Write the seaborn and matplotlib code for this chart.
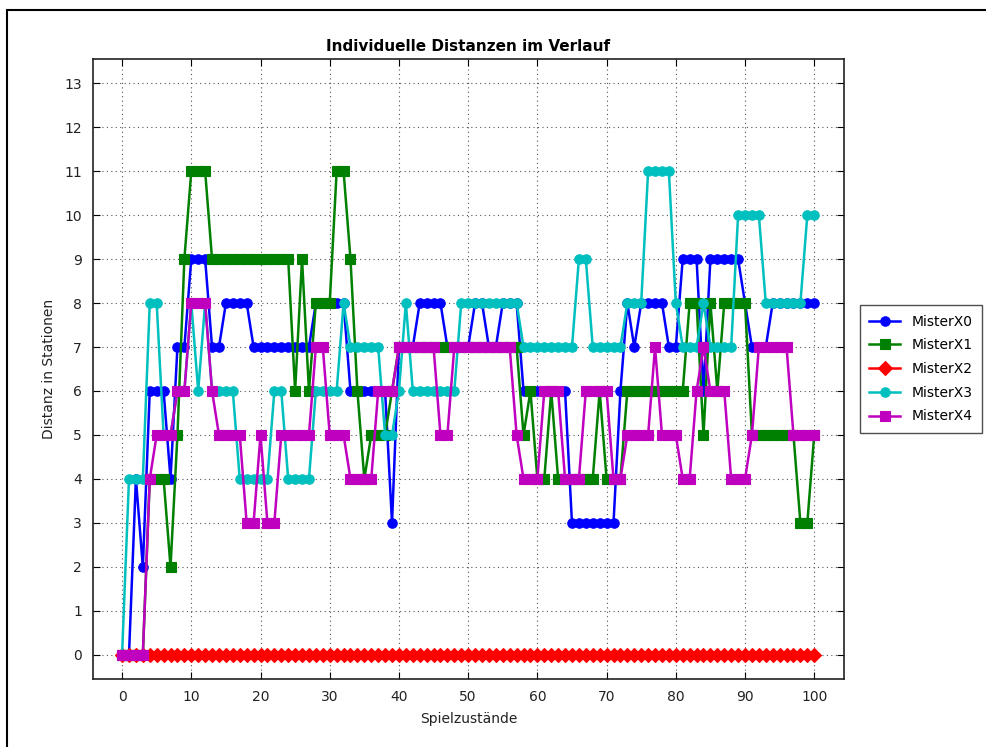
import matplotlib
matplotlib.use("Agg")
import matplotlib.pyplot as plt
from matplotlib.patches import Rectangle
import numpy as np
import pandas as pd
import seaborn as sns

# Game states 0..100
steps = list(range(101))

def runs(*pairs):
    """Expand (value, count) pairs into a flat list."""
    out = []
    for v, n in pairs:
        out.extend([v] * n)
    return out

misterx0 = runs((0, 2), (4, 1), (2, 1), (6, 3), (4, 1), (7, 2), (9, 3), (7, 2),
                (8, 4), (7, 9), (8, 5), (6, 6), (3, 1), (7, 3), (8, 4), (7, 4),
                (8, 2), (7, 2), (8, 3), (6, 7), (3, 7), (6, 1), (8, 1), (7, 1),
                (8, 4), (7, 2), (9, 3), (6, 1), (9, 5), (8, 1), (7, 3), (8, 7))

misterx1 = runs((0, 4), (4, 3), (2, 1), (5, 1), (9, 1), (11, 3), (9, 12), (6, 1),
                (9, 1), (6, 1), (8, 3), (11, 2), (9, 1), (6, 1), (4, 1), (5, 3),
                (6, 1), (7, 18), (5, 1), (6, 1), (4, 2), (6, 1), (4, 6), (6, 1),
                (4, 3), (6, 9), (8, 2), (5, 1), (8, 1), (6, 1), (8, 4), (5, 7),
                (3, 2), (5, 1))

misterx2 = runs((0, 101))

misterx3 = runs((0, 1), (4, 3), (8, 2), (5, 2), (6, 2), (8, 1), (6, 1), (8, 1),
                (6, 4), (4, 5), (6, 2), (4, 4), (6, 4), (8, 1), (7, 5), (5, 2),
                (6, 1), (8, 1), (6, 7), (8, 9), (7, 8), (9, 2), (7, 5), (8, 3),
                (11, 4), (8, 1), (7, 3), (8, 1), (7, 4), (10, 4), (8, 6), (10, 2))

misterx4 = runs((0, 4), (4, 1), (5, 3), (6, 2), (8, 3), (6, 1), (5, 4), (3, 2),
                (5, 1), (3, 2), (5, 5), (7, 2), (5, 3), (4, 4), (6, 3), (7, 6),
                (5, 2), (7, 9), (5, 1), (4, 3), (6, 3), (4, 3), (6, 4), (4, 2),
                (5, 4), (7, 1), (5, 3), (4, 2), (6, 1), (7, 1), (6, 3), (4, 3),
                (5, 1), (7, 5), (5, 4))

names = ["MisterX0", "MisterX1", "MisterX2", "MisterX3", "MisterX4"]
series = [misterx0, misterx1, misterx2, misterx3, misterx4]
colors = ["#0000ff", "#008000", "#ff0000", "#00bfbf", "#bf00bf"]
markers = ["o", "s", "D", "o", "s"]
marker_sizes = {"o": 6.8, "s": 7.5, "D": 7.5}

x_ticks = list(range(0, 101, 10))
y_ticks = list(range(0, 14))

df = pd.DataFrame({
    "Spielzustand": np.tile(steps, len(names)),
    "Distanz": np.concatenate([np.asarray(s, dtype=float) for s in series]),
    "Spieler": np.repeat(names, len(steps)),
})

plt.rcParams["font.family"] = ["DejaVu Sans"]
plt.rcParams["font.size"] = 10

fig = plt.figure(figsize=(9.87, 7.47), dpi=100)
ax = fig.add_axes([93 / 987, 1 - 679 / 747, (844 - 93) / 987, (679 - 59) / 747])

sns.lineplot(
    data=df, x="Spielzustand", y="Distanz", hue="Spieler", style="Spieler",
    hue_order=names, style_order=names,
    palette=dict(zip(names, colors)),
    markers=dict(zip(names, markers)), dashes=False,
    linewidth=1.8, markersize=7.5, markeredgewidth=0.8,
    ax=ax, legend=True,
)

# markers filled and outlined in their series colour
def restyle(line):
    c = line.get_color()
    line.set_markeredgecolor(c)
    line.set_markerfacecolor(c)
    m = line.get_marker()
    if m in marker_sizes:
        line.set_markersize(marker_sizes[m])

for line in ax.lines:
    restyle(line)

ax.set_xlim(-4.2, 104.3)
ax.set_ylim(-0.55, 13.55)
ax.set_xticks(x_ticks)
ax.set_yticks(y_ticks)
ax.tick_params(direction="in", top=True, right=True, length=5,
               labelcolor="#222222", labelsize=10, pad=8)
ax.grid(True, linestyle=(0, (1, 3)), color="#555555", linewidth=0.8)
for sp in ax.spines.values():
    sp.set_linewidth(1.2)
    sp.set_color("#222222")

ax.set_title("Individuelle Distanzen im Verlauf", fontweight="bold",
             fontsize=11, pad=6)
ax.set_xlabel("Spielzustände", color="#222222", fontsize=10, labelpad=6)
ax.set_ylabel("Distanz in Stationen", color="#222222", fontsize=10, labelpad=6)

handles, labels = ax.get_legend_handles_labels()
for h in handles:
    restyle(h)
ax.legend(handles, labels, loc="center left", bbox_to_anchor=(1.021, 0.5),
          borderaxespad=0, frameon=True, fancybox=False, edgecolor="#222222",
          fontsize=10, handlelength=2.2, labelspacing=0.7, borderpad=0.7)
ax.get_legend().get_frame().set_linewidth(1.0)

# outer frame around the figure
fig.patches.append(Rectangle((7.5 / 987, -0.5), 2.0, 1.5 - 9.7 / 747,
                             transform=fig.transFigure, fill=False,
                             edgecolor="black", linewidth=1.5))

fig.savefig("out.png", dpi=100)
